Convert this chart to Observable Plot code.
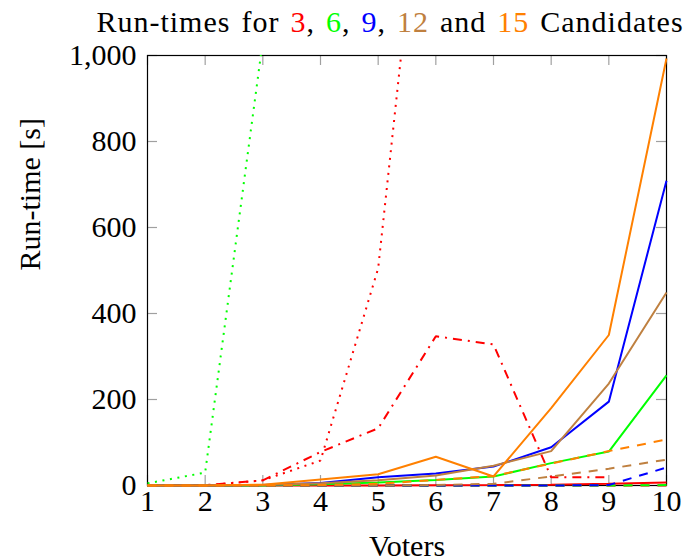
<!DOCTYPE html>
<html>
<head>
<meta charset="utf-8">
<script src="https://cdn.jsdelivr.net/npm/d3@7"></script>
<script src="https://cdn.jsdelivr.net/npm/@observablehq/plot@0.6"></script>
<style>
  html, body { margin: 0; padding: 0; background: #fff; }
  #wrap { width: 689px; height: 560px; position: relative; overflow: hidden; }
  #title { position: relative; width: 689px; height: 40px; font-family: "Liberation Serif", serif; font-size: 30px; }
  #title span.t { position: absolute; left: 390px; top: 7px; transform: translateX(-50%); white-space: nowrap; line-height: 30px; letter-spacing: 1px; word-spacing: 2.5px; color: #000; }
</style>
</head>
<body>
<div id="wrap">
  <div id="title"><span class="t">Run-times for <span style="color:#ff0000">3</span>, <span style="color:#00ff00">6</span>, <span style="color:#0000ff">9</span>, <span style="color:#bf8040">12</span> and <span style="color:#ff8000">15</span> Candidates</span></div>
  <div id="chart"></div>
</div>
<script>
// Voters (x axis)
const voters = [1, 2, 3, 4, 5, 6, 7, 8, 9, 10];
const yTicks = [0, 200, 400, 600, 800, 1000];

// 3 candidates (red)
const red_solid   = [0, 0, 0, 0, 0, 0.5, 1, 2, 4, 7];
const red_dashed  = [0, 0, 0, 0, 0, 0, 0, 0, 0, 0];
const red_dotted  = [0, 0, 12, 58, 505, 1750];
const red_dashdot = [0, 1, 12, 78, 133, 347, 328, 19, 19];

// 6 candidates (green)
const green_solid  = [0, 0, 0, 3, 7, 13, 21, 52, 79, 256];
const green_dashed = [0, 0, 0, 0, 0, 0, 0, 0, 0, 1];
const green_dotted = [5, 30, 1035];

// 9 candidates (blue)
const blue_solid  = [0, 0, 1, 6, 19, 28, 44, 89, 195, 709];
const blue_dashed = [0, 0, 0, 0, 0, 0, 0, 0, 1, 42];

// 12 candidates (brown)
const brown_solid  = [0, 0, 1, 5, 12, 23, 46, 80, 237, 449];
const brown_dashed = [0, 0, 0, 0, 0, 1, 4, 21, 39, 60];

// 15 candidates (orange)
const orange_solid  = [0, 0, 2, 14, 26, 67, 21, 180, 350, 993];
const orange_dashed = [0, 0, 0, 1, 4, 13, 22, 51, 80, 107];

const RED = "#ff0000", GREEN = "#00ff00", BLUE = "#0000ff", BROWN = "#bf8040", ORANGE = "#ff8000";
const DASH = {solid: null, dashed: "9,8", dotted: "2,5.6", dashdot: "9,6,2,6"};

const series = [
  {values: red_solid, color: RED, style: "solid"},
  {values: red_dashed, color: RED, style: "dashed"},
  {values: red_dotted, color: RED, style: "dotted", clip: true},
  {values: red_dashdot, color: RED, style: "dashdot"},
  {values: green_solid, color: GREEN, style: "solid"},
  {values: green_dashed, color: GREEN, style: "dashed"},
  {values: green_dotted, color: GREEN, style: "dotted", clip: true},
  {values: blue_solid, color: BLUE, style: "solid"},
  {values: blue_dashed, color: BLUE, style: "dashed"},
  {values: brown_solid, color: BROWN, style: "solid"},
  {values: brown_dashed, color: BROWN, style: "dashed"},
  {values: orange_solid, color: ORANGE, style: "solid"},
  {values: orange_dashed, color: ORANGE, style: "dashed"}
];

const W = 689, H = 520;
const mL = 147, mR = 23, mT = 15, mB = 75;
const plotW = W - mL - mR, plotH = H - mT - mB;
const TICK = "#a0a0a0";

const lineMarks = series.map(s => Plot.line(
  s.values.map((v, i) => ({x: voters[i], y: v})),
  {x: "x", y: "y", stroke: s.color, strokeWidth: 2,
   strokeDasharray: DASH[s.style], strokeLinejoin: "miter", strokeLinecap: "butt",
   clip: !!s.clip}
));

const chart = Plot.plot({
  width: W, height: H,
  marginLeft: mL, marginRight: mR, marginTop: mT, marginBottom: mB,
  x: {domain: [1, 10], label: null, axis: null},
  y: {domain: [0, 1000], label: null, axis: null},
  style: {fontFamily: "Liberation Serif, serif", fontSize: "30px", background: "#fff", color: "#000", overflow: "visible"},
  marks: [
    Plot.tickY(yTicks, {y: d => d, stroke: TICK, strokeWidth: 1.2, insetRight: plotW - 10}),
    Plot.tickY(yTicks, {y: d => d, stroke: TICK, strokeWidth: 1.2, insetLeft: plotW - 10}),
    Plot.tickX(voters, {x: d => d, stroke: TICK, strokeWidth: 1.2, insetBottom: plotH - 10}),
    Plot.tickX(voters, {x: d => d, stroke: TICK, strokeWidth: 1.2, insetTop: plotH - 10}),
    Plot.frame({stroke: "#000", strokeWidth: 1.2}),
    Plot.axisY(yTicks, {tickSize: 0, tickPadding: 11, tickFormat: d3.format(","), fontSize: 30, label: null}),
    Plot.axisX(voters, {tickSize: 0, tickPadding: 4, tickFormat: d => String(d), fontSize: 30, label: null}),
    ...lineMarks,
    Plot.text(["Run-time [s]"], {text: d => d, frameAnchor: "left", rotate: -90, dx: -117, fontSize: 30}),
    Plot.text(["Voters"], {text: d => d, frameAnchor: "bottom", dy: 70, fontSize: 30})
  ]
});
document.getElementById("chart").appendChild(chart);
</script>
</body>
</html>
